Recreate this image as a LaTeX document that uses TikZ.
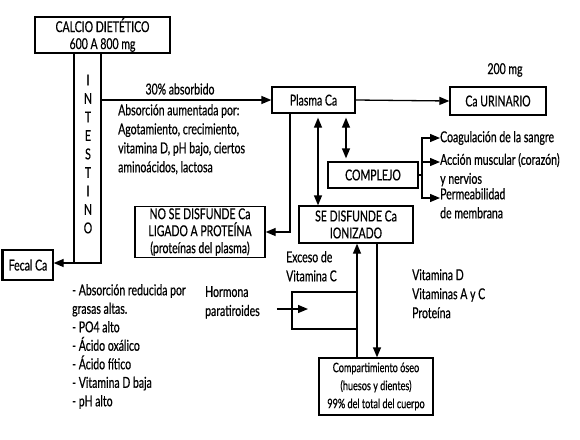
\documentclass[tikz,border=0pt]{standalone}
\usepackage{fontspec}
\setmainfont{Lato}[FakeStretch=0.7,FakeBold=0.6,AutoFakeBold=0]
\usetikzlibrary{arrows.meta,calc}
\begin{document}
\begin{tikzpicture}[x=1pt,y=-1pt,
 box/.style={draw,line width=1.3pt,inner sep=0pt,align=center,font=\fontsize{15}{17}\selectfont},
 lbl/.style={inner sep=0pt,align=left,font=\fontsize{15}{19}\selectfont},
 arr/.style={line width=1.3pt,-{Triangle[length=10pt,width=8pt]}},
 darr/.style={line width=1.3pt,{Triangle[length=10pt,width=8pt]}-{Triangle[length=10pt,width=8pt]}},
 ln/.style={line width=1.3pt}]
\useasboundingbox (0,0) rectangle (580,439);
% boxes
\node[box,minimum width=135,minimum height=36] (calcio) at (102.5,35) {CALCIO DIETÉTICO\\600 A 800 mg};
\node[box,minimum width=50,minimum height=30] (fecal) at (28,265) {Fecal Ca};
\draw[line width=3pt] (fecal.north west) -- (fecal.south west);
\node[box,minimum width=83,minimum height=26] (plasma) at (313.5,100) {Plasma Ca};
\node[box,minimum width=96,minimum height=28] (urin) at (498,101) {Ca URINARIO};
\node[box,minimum width=90,minimum height=26] (compl) at (373,175) {COMPLEJO};
\node[box,minimum width=130,minimum height=51] (nose) at (200,232) {NO SE DISFUNDE Ca\\LIGADO A PROTEÍNA\\(proteínas del plasma)};
\node[box,minimum width=114,minimum height=37] (sedis) at (356,224.5) {SE DISFUNDE Ca\\IONIZADO};
\node[box,minimum width=114,minimum height=57,font=\fontsize{13}{18}\selectfont] (comp) at (376,386.5) {Compartimiento óseo\\(huesos y dientes)\\99\% del total del cuerpo};
% labels
\node[lbl,align=center,font=\fontsize{15}{18.5}\selectfont] (intest) at (88,154) {I\\N\\T\\E\\S\\T\\I\\N\\O};
\node[lbl] (abs30) at (180,89) {30\% absorbido};
\node[lbl,anchor=north west] (absaum) at (118,104) {Absorción aumentada por:\\Agotamiento, crecimiento,\\vitamina D, pH bajo, ciertos\\aminoácidos, lactosa};
\node[lbl] (mg) at (505,70) {200 mg};
\node[lbl,anchor=west] (coag) at (440,138) {Coagulación de la sangre};
\node[lbl,anchor=north west] (musc) at (440,153) {Acción muscular (corazón)\\y nervios};
\node[lbl,anchor=north west] (perm) at (440,188) {Permeabilidad\\de membrana};
\node[lbl,anchor=north west] (exc) at (286,251) {Exceso de\\Vitamina C};
\node[lbl,anchor=north west] (vits) at (412,269) {Vitamina D\\Vitaminas A y C\\Proteína};
\node[lbl,anchor=north west] (horm) at (205,286) {Hormona\\paratiroides};
\node[lbl,anchor=north west,font=\fontsize{15}{18.5}\selectfont] (red) at (72,284) {- Absorción reducida por\\grasas altas.\\- PO4 alto\\- Ácido oxálico\\- Ácido fítico\\- Vitamina D baja\\- pH alto};
% intestine
\coordinate (iL) at (74,263);
\coordinate (iR) at (101,263);
\draw[ln] (calcio.south -| iL) -- (iL);
\draw[arr] (calcio.south -| iR) -- (iR) -- (fecal.east |- iR);
\draw[arr] (iR |- plasma.west) -- (plasma.west);
\draw[arr] (plasma.east) -- (urin.west);
\coordinate (pl1) at (290,0);
\draw[arr] (plasma.south -| pl1) |- (nose.east);
\coordinate (pl2) at (318,0);
\draw[darr,shorten <=4pt] (plasma.south -| pl2) -- (sedis.north -| pl2);
\coordinate (pl3) at (346,0);
\draw[darr,shorten <=4pt,shorten >=3pt] (plasma.south -| pl3) -- (compl.north -| pl3);
\coordinate (br) at (422,175);
\draw[ln] (compl.east) -- (br);
\draw[arr] (br) |- (coag.west);
\draw[arr] (br) |- ([yshift=-9pt]musc.north west);
\draw[arr] (br) |- ([yshift=-10pt]perm.north west);
\coordinate (up) at (357,0);
\coordinate (dn) at (377,0);
\draw[arr] (comp.north -| up) -- (sedis.south -| up);
\draw[arr] (sedis.south -| dn) -- (comp.north -| dn);
\coordinate (b1) at (357,292);
\coordinate (b2) at (357,329);
\draw[ln] (b1) -- (292,292) -- (292,329) -- (b2);
\coordinate (ht) at (308,309);
\draw[arr] ([xshift=17pt]horm.east |- ht) -- (ht);
\end{tikzpicture}
\end{document}
